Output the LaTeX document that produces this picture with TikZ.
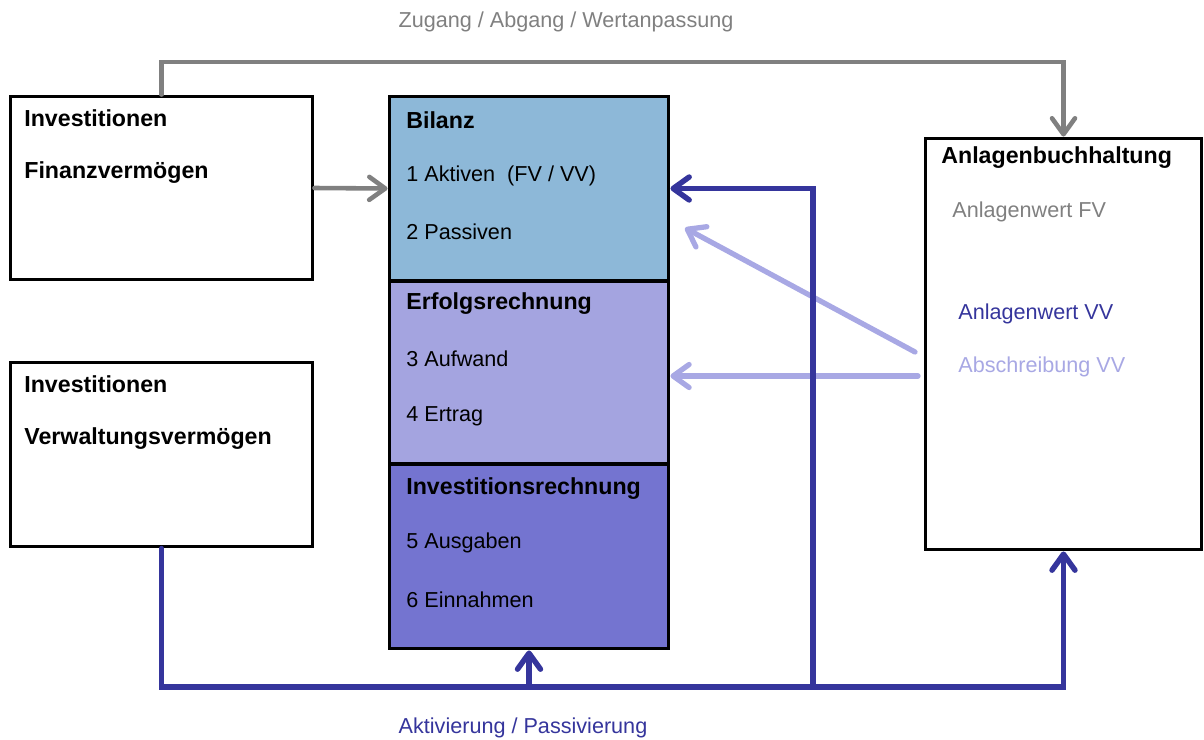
\documentclass[tikz,border=0pt]{standalone}
\usepackage{fontspec}
\setmainfont{Liberation Sans}
\usetikzlibrary{arrows.meta}

\definecolor{bilblue}{HTML}{8DB8D8}
\definecolor{erfblue}{HTML}{A4A4E0}
\definecolor{invblue}{HTML}{7474D0}
\definecolor{darkline}{HTML}{35359C}
\definecolor{lightline}{HTML}{A8A8E4}
\definecolor{grayline}{HTML}{808080}

\begin{document}
\begin{tikzpicture}[x=0.02cm, y=-0.02cm,
        font=\fontsize{12.3}{14}\selectfont,
        box/.style={draw=black, line width=1.7pt, rectangle, inner sep=0pt},
        head/.style={anchor=west, inner sep=0pt, font=\fontsize{13.2}{15}\selectfont\bfseries},
        entry/.style={anchor=west, inner sep=0pt},
        tip/.style={-{Straight Barb[length=3.2mm, width=4.6mm, round]}},
        grayflow/.style={tip, grayline, line width=2.6pt, line cap=round},
        darkflow/.style={tip, darkline, line width=3.1pt, line cap=round},
        lightflow/.style={tip, lightline, line width=3pt, line cap=round}]
        \useasboundingbox (0,0) rectangle (1204,740);

        % boxes
        \node[box, minimum width=6.06cm, minimum height=3.68cm] (fv) at (161.5,188) {};
        \node[box, minimum width=6.06cm, minimum height=3.70cm] (vv) at (161.5,454.5) {};
        \node[box, fill=bilblue, minimum width=5.6cm, minimum height=3.70cm] (bil) at (529,188.5) {};
        \node[box, fill=erfblue, minimum width=5.6cm, minimum height=3.66cm] (erf) at (529,372.5) {};
        \node[box, fill=invblue, minimum width=5.6cm, minimum height=3.70cm] (inv) at (529,556.5) {};
        \node[box, minimum width=5.54cm, minimum height=8.24cm] (anl) at (1063.5,344) {};

        % box texts
        \node[head] (fvhead) at (24,118) {Investitionen};
        \node[head] (fvsub) at (24,173) {Finanzverm\"ogen};
        \node[head] (vvhead) at (24,384) {Investitionen};
        \node[head] (vvsub) at (24,439) {Verwaltungsverm\"ogen};

        \node[head] (bilhead) at (406,120) {Bilanz};
        \node[entry] (akt) at (406,176) {1 Aktiven\ \ (FV / VV)};
        \node[entry] (pas) at (406,232) {2 Passiven};
        \node[head] (erfhead) at (406,304) {Erfolgsrechnung};
        \node[entry] (auf) at (406,359) {3 Aufwand};
        \node[entry] (ert) at (406,416) {4 Ertrag};
        \node[head] (invhead) at (406,489) {Investitionsrechnung};
        \node[entry] (aus) at (406,543) {5 Ausgaben};
        \node[entry] (ein) at (406,600) {6 Einnahmen};

        \node[head] (anlhead) at (941,158) {Anlagenbuchhaltung};
        \node[entry, grayline] (wfv) at (952,212) {Anlagenwert FV};
        \node[entry, darkline] (wvv) at (958,314) {Anlagenwert VV};
        \node[entry, lightline] (abs) at (958,367) {Abschreibung VV};

        % flow labels
        \node[grayline] (zug) at (566,22) {Zugang / Abgang / Wertanpassung};
        \node[darkline] (akp) at (523,728) {Aktivierung / Passivierung};

        % helper points
        \coordinate (topline) at (0,62);
        \coordinate (botline) at (813,687);
        \coordinate (abssrc) at (915,352);
        \coordinate (pastgt) at (685,228);
        \coordinate (erfsrc) at (918,376);

        %% connection
        % gray
        \draw[grayflow] (fv.north) -- (fv.north |- topline) -| (anl.north);
        \draw[grayflow] (fv.east) -- (bil.west);
        % light
        \draw[lightflow] (abssrc) -- (pastgt);
        \draw[lightflow] (erfsrc) -- (erfsrc -| erf.east);
        % dark
        \draw[darkflow] (vv.south) |- (botline) -| (anl.south);
        \draw[darkflow] (inv.south |- botline) -- (inv.south);
        \draw[darkflow] (botline) |- (bil.east);
    \end{tikzpicture}
\end{document}
